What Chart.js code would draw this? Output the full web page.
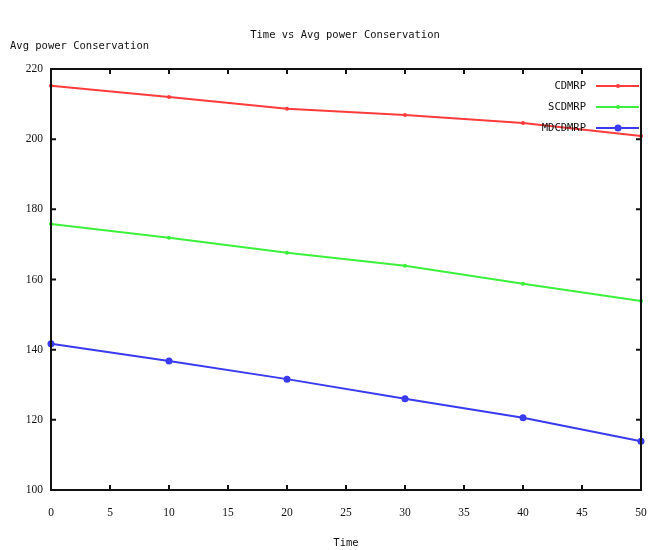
<!DOCTYPE html>
<html>
<head>
<meta charset="utf-8">
<script src="https://cdn.jsdelivr.net/npm/chart.js@4"></script>
<style>
  html, body { margin: 0; padding: 0; background: #fff; }
  #wrap { width: 654px; height: 550px; }
</style>
</head>
<body>
<div id="wrap"><canvas id="chart" width="654" height="550"></canvas></div>
<script>
// data
const times = [0, 10, 20, 30, 40, 50];
const cdmrp = [215.2, 212.0, 208.7, 206.9, 204.6, 200.9];
const scdmrp = [175.8, 171.9, 167.6, 163.9, 158.8, 153.9];
const mdcdmrp = [141.7, 136.8, 131.6, 126.0, 120.6, 113.9];
const seriesNames = ['CDMRP', 'SCDMRP', 'MDCDMRP'];
const xTicks = [0, 5, 10, 15, 20, 25, 30, 35, 40, 45, 50];
const yTicks = [100, 120, 140, 160, 180, 200, 220];

const chartTitle = 'Time vs Avg power Conservation';
const yLabel = 'Avg power Conservation';
const xLabel = 'Time';

const textColor = '#111';
const monoFont = '"DejaVu Sans Mono", monospace';
const serifFont = '"Liberation Serif", serif';

const toPoints = (ys) => times.map((t, i) => ({ x: t, y: ys[i] }));

// frame, inward ticks, title, y label and in-plot legend (gnuplot style)
const gnuplotDecor = {
    id: 'gnuplotDecor',
    afterDraw(chart) {
        const { ctx, chartArea: a, scales } = chart;
        ctx.save();

        // box
        ctx.strokeStyle = '#111';
        ctx.lineWidth = 2;
        ctx.strokeRect(a.left, a.top, a.right - a.left, a.bottom - a.top);

        // inward tick marks on all sides
        ctx.beginPath();
        xTicks.forEach(v => {
            const px = scales.x.getPixelForValue(v);
            ctx.moveTo(px, a.bottom); ctx.lineTo(px, a.bottom - 5);
            ctx.moveTo(px, a.top); ctx.lineTo(px, a.top + 5);
        });
        yTicks.forEach(v => {
            const py = scales.y.getPixelForValue(v);
            ctx.moveTo(a.left, py); ctx.lineTo(a.left + 5, py);
            ctx.moveTo(a.right, py); ctx.lineTo(a.right - 5, py);
        });
        ctx.stroke();

        // title and horizontal y label
        ctx.fillStyle = textColor;
        ctx.font = '10.5px ' + monoFont;
        ctx.textBaseline = 'middle';
        ctx.textAlign = 'center';
        ctx.fillText(chartTitle, 345, 35);
        ctx.textAlign = 'left';
        ctx.fillText(yLabel, 10, 46);

        // legend inside the top right corner
        chart.data.datasets.forEach((ds, i) => {
            const y = a.top + 17 + i * 21;
            ctx.fillStyle = textColor;
            ctx.textAlign = 'right';
            ctx.fillText(ds.label, a.right - 55, y);
            ctx.strokeStyle = ds.borderColor;
            ctx.lineWidth = 2;
            ctx.beginPath();
            ctx.moveTo(a.right - 45, y); ctx.lineTo(a.right - 2, y);
            ctx.stroke();
            ctx.fillStyle = ds.borderColor;
            ctx.beginPath();
            ctx.arc(a.right - 23, y, ds.pointRadius, 0, Math.PI * 2);
            ctx.fill();
        });

        ctx.restore();
    }
};

const colors = ['#ff3b3b', '#3cf03c', '#3a3af0'];
const radii = [2, 2, 3.5];

new Chart(document.getElementById('chart'), {
    type: 'line',
    data: {
        datasets: [cdmrp, scdmrp, mdcdmrp].map((ys, i) => ({
            label: seriesNames[i],
            data: toPoints(ys),
            borderColor: colors[i],
            backgroundColor: colors[i],
            borderWidth: 2,
            pointRadius: radii[i],
            pointBorderWidth: 0,
            tension: 0,
            clip: false
        }))
    },
    options: {
        responsive: false,
        animation: false,
        layout: { padding: { top: 69, right: 13, left: 0, bottom: 0 } },
        plugins: {
            legend: { display: false },
            title: { display: false },
            tooltip: { enabled: false }
        },
        scales: {
            x: {
                type: 'linear',
                min: 0,
                max: 50,
                afterFit: (s) => { s.height = 60; s.paddingLeft = 0; s.paddingRight = 0; },
                afterBuildTicks: (s) => { s.ticks = xTicks.map(v => ({ value: v })); },
                grid: { display: false, drawTicks: false },
                border: { display: false },
                ticks: {
                    padding: 16,
                    color: textColor,
                    font: { family: serifFont, size: 11.5 },
                    maxRotation: 0
                },
                title: {
                    display: true,
                    text: xLabel,
                    color: textColor,
                    font: { family: monoFont, size: 10.5 },
                    padding: { top: 0, bottom: 0 }
                }
            },
            y: {
                min: 100,
                max: 220,
                afterFit: (s) => { s.width = 51; s.paddingTop = 0; s.paddingBottom = 0; },
                afterBuildTicks: (s) => { s.ticks = yTicks.map(v => ({ value: v })); },
                grid: { display: false, drawTicks: false },
                border: { display: false },
                ticks: {
                    padding: 8,
                    color: textColor,
                    font: { family: serifFont, size: 11.5 }
                }
            }
        }
    },
    plugins: [gnuplotDecor]
});
</script>
</body>
</html>
